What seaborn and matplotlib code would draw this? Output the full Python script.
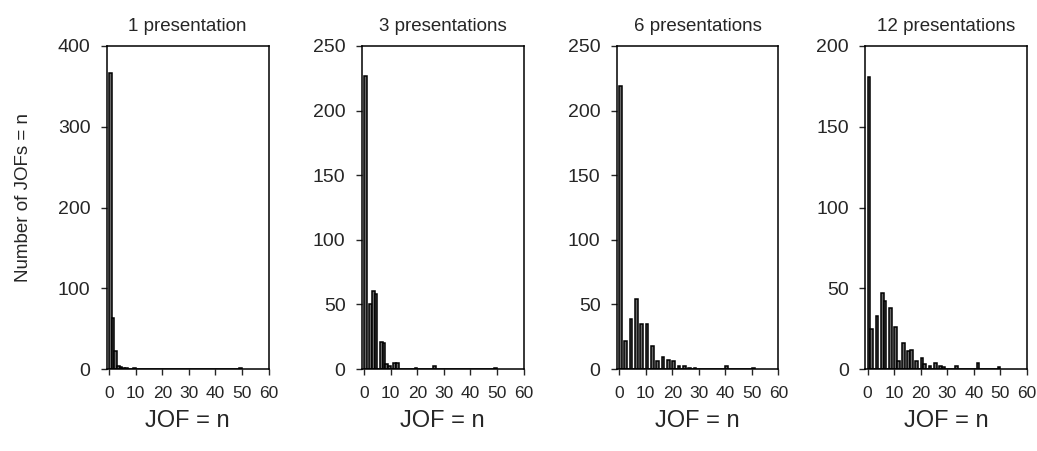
import numpy as np
import pandas as pd
import seaborn as sns
import matplotlib.pyplot as plt

# -- Distribucion de JOF por numero de presentaciones -- #

titles = ["1 presentation", "3 presentations", "6 presentations", "12 presentations"]

jof_1 = [0, 1, 2, 3, 4, 5, 6, 9, 49]
count_1 = [367, 63, 22, 4, 3, 1, 1, 1, 1]

jof_3 = [0, 2, 3, 4, 6, 7, 8, 9, 11, 12, 19, 26, 49]
count_3 = [227, 50, 60, 58, 21, 20, 4, 2, 5, 5, 1, 2, 1]

jof_6 = [0, 2, 4, 6, 8, 10, 12, 14, 16, 18, 20, 22, 24, 26, 28, 40, 50]
count_6 = [219, 22, 39, 54, 35, 35, 18, 6, 9, 7, 6, 2, 2, 1, 1, 2, 1]

jof_12 = [0, 1, 3, 5, 6, 8, 10, 11, 13, 15, 16, 18, 20, 21, 23, 25, 27, 28, 33, 41, 49]
count_12 = [181, 25, 33, 47, 42, 38, 26, 5, 16, 11, 12, 5, 7, 3, 2, 4, 2, 1, 2, 4, 1]

y_max = [400, 250, 250, 200]
y_step = [100, 50, 50, 50]

paineis = [(jof_1, count_1), (jof_3, count_3), (jof_6, count_6), (jof_12, count_12)]

sns.set_style("ticks")
plt.rcParams["font.family"] = ["Liberation Sans", "DejaVu Sans"]

W, H = 1037, 451
fig = plt.figure(figsize=(W / 100, H / 100), dpi=100)
lefts = [106.5, 361.5, 616.5, 865]
top_px, bottom_px, width_px = 46, 369, 162

for i, (jof, count) in enumerate(paineis):
    ax = fig.add_axes([lefts[i] / W, (H - bottom_px) / H, width_px / W, (bottom_px - top_px) / H])
    df = pd.DataFrame({"jof": jof, "n": count})
    sns.histplot(data=df, x="jof", weights="n", binwidth=1, binrange=(0, max(jof) + 1),
                 color="#6a6a6a", edgecolor="black", linewidth=1.1, alpha=1, ax=ax)
    ax.set_xlim(-1, 60)
    ax.set_ylim(0, y_max[i])
    ax.set_xticks(range(0, 61, 10))
    ax.set_yticks(np.arange(0, y_max[i] + 1, y_step[i]))
    ax.tick_params(axis="x", labelsize=12.5, length=4, width=1, pad=8, direction="out")
    ax.tick_params(axis="y", labelsize=14, length=4.5, width=1, pad=7, direction="out")
    for s in ax.spines.values():
        s.set_visible(True)
        s.set_linewidth(1.1)
        s.set_color("black")
    ax.set_title(titles[i], fontsize=13.5, pad=11)
    ax.set_xlabel("JOF = n", fontsize=17, labelpad=7)
    if i == 0:
        ax.set_ylabel("Number of JOFs = n", fontsize=13.5)
        ax.yaxis.set_label_coords(-0.46, 0.53)
    else:
        ax.set_ylabel("")

plt.savefig("out.png", dpi=100)
